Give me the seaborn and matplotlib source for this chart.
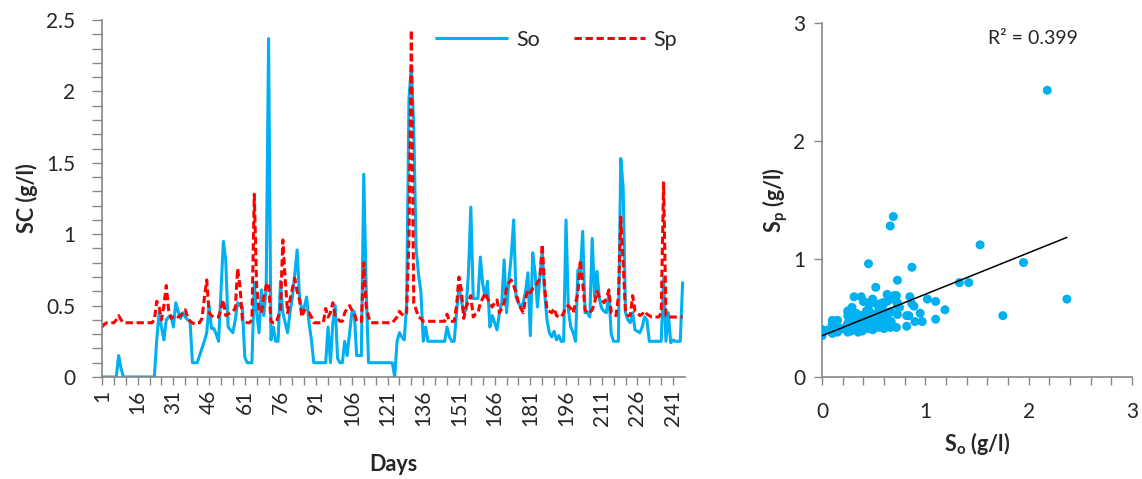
import numpy as np
import pandas as pd
import seaborn as sns
import matplotlib.pyplot as plt
from matplotlib.ticker import FixedLocator, FixedFormatter, MultipleLocator

sns.set_theme(style="white")
plt.rcParams['font.family'] = ['Lato', 'DejaVu Sans']
plt.rcParams['mathtext.fontset'] = 'custom'
plt.rcParams['mathtext.rm'] = 'Lato'
plt.rcParams['mathtext.bf'] = 'Lato:bold'

# ---------------- data ----------------
days = list(range(1, 246))

so = [
    0, 0, 0, 0, 0, 0, 0, 0.15, 0.06, 0,                      # 1-10
    0, 0, 0, 0, 0, 0, 0, 0, 0, 0,                            # 11-20
    0, 0, 0, 0.26, 0.45, 0.35, 0.26, 0.40, 0.42, 0.43,       # 21-30
    0.35, 0.52, 0.46, 0.41, 0.45, 0.42, 0.40, 0.39, 0.10, 0.10,  # 31-40
    0.10, 0.15, 0.20, 0.25, 0.31, 0.50, 0.34, 0.34, 0.30, 0.25,  # 41-50
    0.60, 0.95, 0.82, 0.35, 0.33, 0.31, 0.40, 0.52, 0.50, 0.49,  # 51-60
    0.14, 0.10, 0.10, 0.10, 0.66, 0.45, 0.31, 0.61, 0.43, 0.63,  # 61-70
    2.37, 0.26, 0.35, 0.25, 0.25, 0.67, 0.45, 0.38, 0.31, 0.45,  # 71-80
    0.56, 0.72, 0.89, 0.56, 0.46, 0.49, 0.56, 0.38, 0.26, 0.10,  # 81-90
    0.10, 0.10, 0.10, 0.10, 0.10, 0.35, 0.10, 0.38, 0.50, 0.13,  # 91-100
    0.10, 0.10, 0.25, 0.15, 0.30, 0.45, 0.46, 0.15, 0.15, 0.15,  # 101-110
    1.42, 0.63, 0.10, 0.10, 0.10, 0.10, 0.10, 0.10, 0.10, 0.10,  # 111-120
    0.10, 0.10, 0.10, 0.00, 0.25, 0.31, 0.28, 0.26, 0.50, 1.95,  # 121-130
    2.18, 1.75, 0.90, 0.72, 0.60, 0.25, 0.35, 0.25, 0.25, 0.25,  # 131-140
    0.25, 0.25, 0.25, 0.25, 0.25, 0.35, 0.28, 0.25, 0.25, 0.45,  # 141-150
    0.63, 0.54, 0.45, 0.47, 0.73, 1.19, 0.55, 0.55, 0.55, 0.84,  # 151-160
    0.65, 0.56, 0.67, 0.35, 0.43, 0.38, 0.33, 0.45, 0.52, 0.82,  # 161-170
    0.45, 0.68, 0.85, 1.10, 0.56, 0.52, 0.49, 0.52, 0.60, 0.73,  # 171-180
    0.29, 0.87, 0.73, 0.49, 0.70, 0.87, 0.59, 0.40, 0.31, 0.28,  # 181-190
    0.32, 0.26, 0.29, 0.25, 0.25, 1.10, 0.47, 0.35, 0.31, 0.25,  # 191-200
    0.75, 0.73, 1.02, 0.45, 0.45, 0.42, 0.97, 0.56, 0.74, 0.55,  # 201-210
    0.48, 0.46, 0.45, 0.59, 0.30, 0.25, 0.25, 0.25, 1.53, 1.33,  # 211-220
    0.45, 0.40, 0.38, 0.45, 0.33, 0.32, 0.31, 0.35, 0.42, 0.40,  # 221-230
    0.25, 0.25, 0.25, 0.25, 0.25, 0.25, 0.69, 0.25, 0.45, 0.24,  # 231-240
    0.26, 0.25, 0.25, 0.25, 0.66,                                # 241-245
]

sp = [
    0.35, 0.37, 0.38, 0.38, 0.38, 0.38, 0.40, 0.43, 0.40, 0.38,  # 1-10
    0.38, 0.38, 0.38, 0.38, 0.38, 0.38, 0.38, 0.38, 0.38, 0.38,  # 11-20
    0.38, 0.38, 0.40, 0.53, 0.49, 0.40, 0.50, 0.64, 0.47, 0.41,  # 21-30
    0.42, 0.43, 0.42, 0.43, 0.45, 0.47, 0.42, 0.39, 0.38, 0.37,  # 31-40
    0.38, 0.38, 0.41, 0.55, 0.68, 0.45, 0.43, 0.42, 0.42, 0.42,  # 41-50
    0.48, 0.54, 0.43, 0.44, 0.45, 0.46, 0.48, 0.76, 0.63, 0.40,  # 51-60
    0.39, 0.38, 0.38, 0.40, 1.28, 0.63, 0.47, 0.45, 0.56, 0.64,  # 61-70
    0.66, 0.39, 0.38, 0.38, 0.42, 0.47, 0.96, 0.68, 0.45, 0.54,  # 71-80
    0.62, 0.69, 0.60, 0.54, 0.42, 0.47, 0.45, 0.45, 0.42, 0.38,  # 81-90
    0.38, 0.38, 0.38, 0.38, 0.48, 0.42, 0.45, 0.52, 0.43, 0.41,  # 91-100
    0.39, 0.39, 0.45, 0.48, 0.50, 0.47, 0.45, 0.39, 0.39, 0.39,  # 101-110
    0.80, 0.50, 0.42, 0.38, 0.38, 0.38, 0.38, 0.38, 0.38, 0.38,  # 111-120
    0.38, 0.38, 0.38, 0.40, 0.42, 0.46, 0.44, 0.43, 0.45, 0.97,  # 121-130
    2.43, 0.52, 0.47, 0.42, 0.41, 0.39, 0.39, 0.39, 0.39, 0.39,  # 131-140
    0.39, 0.39, 0.39, 0.39, 0.39, 0.44, 0.39, 0.39, 0.39, 0.50,  # 141-150
    0.70, 0.61, 0.41, 0.49, 0.53, 0.57, 0.42, 0.44, 0.45, 0.52,  # 151-160
    0.55, 0.59, 0.55, 0.52, 0.49, 0.52, 0.54, 0.45, 0.48, 0.52,  # 161-170
    0.62, 0.66, 0.68, 0.64, 0.59, 0.52, 0.48, 0.45, 0.55, 0.61,  # 171-180
    0.59, 0.62, 0.63, 0.66, 0.69, 0.93, 0.63, 0.47, 0.46, 0.45,  # 181-190
    0.48, 0.43, 0.42, 0.42, 0.45, 0.49, 0.50, 0.48, 0.45, 0.52,  # 191-200
    0.59, 0.82, 0.66, 0.47, 0.45, 0.45, 0.47, 0.52, 0.60, 0.56,  # 201-210
    0.54, 0.52, 0.55, 0.61, 0.45, 0.44, 0.43, 0.56, 1.12, 0.80,  # 211-220
    0.45, 0.43, 0.43, 0.57, 0.46, 0.45, 0.43, 0.44, 0.46, 0.44,  # 221-230
    0.43, 0.42, 0.42, 0.42, 0.42, 0.45, 1.36, 0.43, 0.43, 0.42,  # 231-240
    0.42, 0.42, 0.42, 0.42, 0.42,                                # 241-245
]

xtick_days = list(range(1, 246, 5))
xlabel_days = list(range(1, 246, 15))
ytick_vals = [0, 0.5, 1, 1.5, 2, 2.5]
ytick_text = ["0", "0.5", "1", "1.5", "2", "2.5"]
r2_label = "R² = 0.399"

df = pd.DataFrame({"Day": days, "So": so, "Sp": sp})

BLUE = "#00B0F0"
RED = "#FF0000"
GREY = "#868686"

W, H = 1142, 479
fig = plt.figure(figsize=(W / 100, H / 100), dpi=100)
ax1 = fig.add_axes([102 / W, 102 / H, 583 / W, 357 / H])
ax2 = fig.add_axes([822 / W, 102 / H, 310 / W, 354 / H])

# ---------------- left: time series ----------------
sns.lineplot(data=df, x="Day", y="So", ax=ax1, color=BLUE, lw=2.2, label="So")
sns.lineplot(data=df, x="Day", y="Sp", ax=ax1, color=RED, lw=2.2,
             linestyle=(0, (2.4, 1.2)), label="Sp")

ax1.set_xlim(1, 246)
ax1.set_ylim(0, 2.5)
ax1.xaxis.set_major_locator(FixedLocator(xtick_days))
ax1.xaxis.set_major_formatter(FixedFormatter(
    [str(d) if d in xlabel_days else "" for d in xtick_days]))
ax1.yaxis.set_major_locator(FixedLocator(ytick_vals))
ax1.yaxis.set_major_formatter(FixedFormatter(ytick_text))
ax1.yaxis.set_minor_locator(MultipleLocator(0.1))
ax1.tick_params(axis="x", which="major", direction="out", length=6, width=1,
                color=GREY, labelsize=15, labelrotation=90, pad=3,
                bottom=True)
ax1.tick_params(axis="y", which="both", direction="out", length=7, width=1,
                color=GREY, labelsize=15, pad=12, left=True)
ax1.set_xlabel("Days", fontsize=15.5, fontweight="bold", labelpad=20)
ax1.set_ylabel("SC (g/l)", fontsize=15.5, fontweight="bold", labelpad=6)
for s in ["top", "right"]:
    ax1.spines[s].set_visible(False)
for s in ["left", "bottom"]:
    ax1.spines[s].set_color(GREY)
    ax1.spines[s].set_linewidth(1.2)
leg = ax1.legend(loc="center right", bbox_to_anchor=(1.02, 0.945), ncol=2,
                 frameon=False, fontsize=15.5, handlelength=3.3,
                 columnspacing=1.6, handletextpad=0.4)

# ---------------- right: scatter ----------------
sns.scatterplot(data=df, x="So", y="Sp", ax=ax2, color=BLUE, s=42,
                edgecolor="none", zorder=3)
sns.regplot(data=df, x="So", y="Sp", ax=ax2, scatter=False, ci=None,
            color="black", line_kws={"lw": 1.1, "zorder": 4})
ax2.set_xlim(0, 3)
ax2.set_ylim(0, 3)
ax2.xaxis.set_major_locator(MultipleLocator(1))
ax2.xaxis.set_minor_locator(MultipleLocator(0.2))
ax2.yaxis.set_major_locator(MultipleLocator(1))
ax2.tick_params(axis="both", which="both", direction="out", length=6, width=1,
                color=GREY, labelsize=15, bottom=True, left=True)
ax2.tick_params(axis="x", pad=12)
ax2.tick_params(axis="y", pad=6)
ax2.set_xlabel(r"$\mathbf{S_o}$ (g/l)", fontsize=15.5, fontweight="bold",
               labelpad=6)
ax2.set_ylabel(r"$\mathbf{S_p}$ (g/l)", fontsize=15.5, fontweight="bold",
               labelpad=2)
for s in ["top", "right"]:
    ax2.spines[s].set_visible(False)
for s in ["left", "bottom"]:
    ax2.spines[s].set_color(GREY)
    ax2.spines[s].set_linewidth(1.2)
ax2.text(0.68, 0.955, r2_label, transform=ax2.transAxes, fontsize=14,
         ha="center", va="center")

fig.savefig("out.png", dpi=100)
